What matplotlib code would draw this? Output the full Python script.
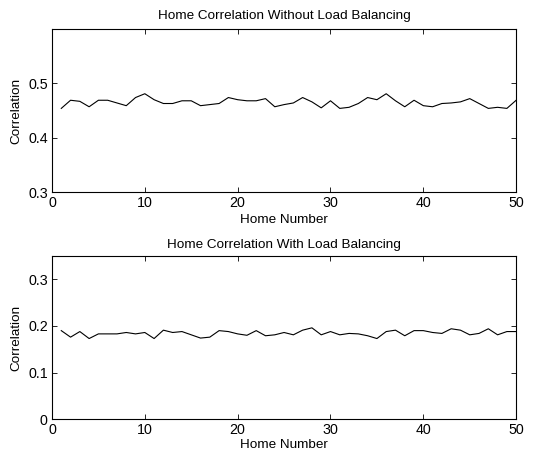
import numpy as np
import matplotlib
matplotlib.use("Agg")
import matplotlib.pyplot as plt

plt.rcParams.update(
    {
        "font.family": ["Liberation Sans", "DejaVu Sans"],
        "xtick.direction": "in",
        "ytick.direction": "in",
        "xtick.top": True,
        "ytick.right": True,
    }
)

homes = np.arange(1, 51)

corr_without_lb = [
    0.454, 0.469, 0.467, 0.457, 0.469, 0.469, 0.464, 0.459, 0.474, 0.481,
    0.470, 0.463, 0.463, 0.468, 0.468, 0.459, 0.461, 0.463, 0.474, 0.470,
    0.468, 0.468, 0.472, 0.457, 0.461, 0.464, 0.474, 0.466, 0.455, 0.468,
    0.454, 0.456, 0.463, 0.474, 0.470, 0.481, 0.468, 0.457, 0.469, 0.459,
    0.457, 0.463, 0.464, 0.466, 0.472, 0.463, 0.454, 0.456, 0.454, 0.469,
]

corr_with_lb = [
    0.190, 0.176, 0.188, 0.173, 0.183, 0.183, 0.183, 0.186, 0.183, 0.186,
    0.173, 0.191, 0.186, 0.188, 0.181, 0.174, 0.176, 0.190, 0.188, 0.183,
    0.180, 0.190, 0.179, 0.181, 0.186, 0.181, 0.191, 0.196, 0.181, 0.188,
    0.181, 0.184, 0.183, 0.179, 0.173, 0.188, 0.191, 0.179, 0.190, 0.190,
    0.186, 0.184, 0.194, 0.191, 0.181, 0.184, 0.194, 0.181, 0.188, 0.188,
]

fig = plt.figure(figsize=(5.36, 4.55), dpi=100)
ax1 = fig.add_axes([0.097, 0.578, 0.866, 0.358])
ax2 = fig.add_axes([0.097, 0.079, 0.866, 0.358])

ax1.plot(homes, corr_without_lb, "k-", linewidth=0.8)
ax1.set_xlim(0, 50)
ax1.set_ylim(0.3, 0.6)
ax1.set_yticks([0.3, 0.4, 0.5])
ax1.set_title("Home Correlation Without Load Balancing", fontsize=9.7, pad=7)
ax1.set_xlabel("Home Number", fontsize=9.7, labelpad=3)

ax2.plot(homes, corr_with_lb, "k-", linewidth=0.8)
ax2.set_xlim(0, 50)
ax2.set_ylim(0, 0.35)
ax2.set_yticks([0, 0.1, 0.2, 0.3])
ax2.set_yticklabels(["0", "0.1", "0.2", "0.3"])
ax2.set_title("Home Correlation With Load Balancing", fontsize=9.7, pad=6)
ax2.set_xlabel("Home Number", fontsize=9.7, labelpad=1)

for ax in (ax1, ax2):
    ax.set_xticks([0, 10, 20, 30, 40, 50])
    ax.set_ylabel("Correlation", fontsize=9.7, labelpad=4)
    ax.tick_params(labelsize=10.3, length=3.5, width=0.6, pad=3)
    for s in ax.spines.values():
        s.set_linewidth(0.8)

fig.savefig("out.png", dpi=100)
